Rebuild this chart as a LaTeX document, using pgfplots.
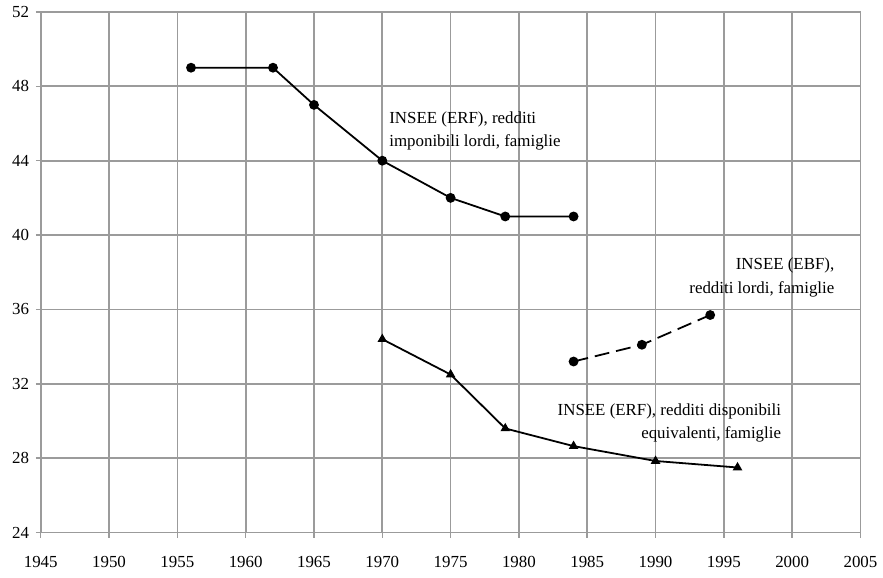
\documentclass[border=0pt]{standalone}
\usepackage{pgfplots}
\pgfplotsset{compat=1.18}
\usepackage{fontspec}
\setmainfont{Liberation Serif}

\definecolor{gridgray}{RGB}{155,155,155}

\begin{document}
\fontsize{17}{20}\selectfont
\begin{tikzpicture}
  \begin{axis}[
      scale only axis,
      width=825pt, height=524pt,
      xmin=1945, xmax=2005,
      ymin=24, ymax=52,
      xtick={1945,1950,...,2005},
      ytick={24,28,...,52},
      xtick pos=lower, ytick pos=left,
      tick align=outside,
      major tick length=5pt,
      grid=major,
      grid style={gridgray, line width=1.7pt},
      axis line style={gridgray, line width=1.7pt},
      tick style={gridgray, line width=1.5pt},
      /pgf/number format/assume math mode=true,
      /pgf/number format/1000 sep={},
      ticklabel style={font=\fontsize{17}{20}\selectfont},
      x tick label style={yshift=-13pt},
      y tick label style={xshift=-1pt},
      clip=false,
    ]
    % INSEE (ERF), redditi imponibili lordi
    \addplot[black, line width=1.8pt, mark=*, mark size=4pt] coordinates {
      (1956,49) (1962,49) (1965,47) (1970,44) (1975,42) (1979,41) (1984,41)
    };
    % INSEE (EBF), redditi lordi
    \addplot[black, line width=1.8pt, dash pattern=on 15pt off 7pt,
             mark=*, mark size=4pt, mark options={solid}] coordinates {
      (1984,33.2) (1989,34.1) (1994,35.7)
    };
    % INSEE (ERF), redditi disponibili equivalenti
    \addplot[black, line width=1.8pt, mark=triangle*, mark size=3.8pt] coordinates {
      (1970,34.4) (1975,32.5) (1979,29.6) (1984,28.65) (1990,27.85) (1996,27.5)
    };

    \node[anchor=base west, inner sep=0] at (axis cs:1970.5,46.02) {INSEE (ERF), redditi};
    \node[anchor=base west, inner sep=0] at (axis cs:1970.5,44.74) {imponibili lordi, famiglie};

    \node[anchor=base east, inner sep=0] at (axis cs:2003.1,38.13) {INSEE (EBF),};
    \node[anchor=base east, inner sep=0] at (axis cs:2003.1,36.84) {redditi lordi, famiglie};

    \node[anchor=base east, inner sep=0] at (axis cs:1999.2,30.29) {INSEE (ERF), redditi disponibili};
    \node[anchor=base east, inner sep=0] at (axis cs:1999.2,29.04) {equivalenti, famiglie};

    % page margins as in the reference
    \path (rel axis cs:0,1) ++(-41pt,12pt);
    \path (rel axis cs:1,0) ++(17pt,-45pt);
  \end{axis}
\end{tikzpicture}
\end{document}
